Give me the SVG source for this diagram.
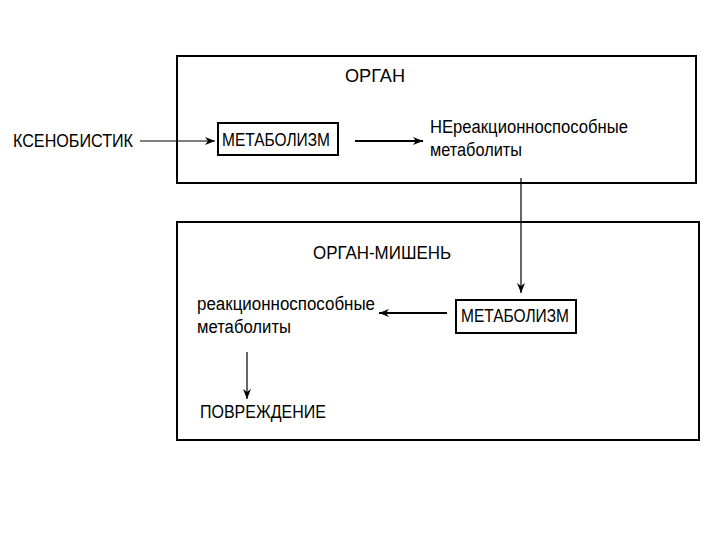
<svg xmlns="http://www.w3.org/2000/svg" width="720" height="540" viewBox="0 0 720 540">
<style>
text{font-family:"Liberation Sans",Arial,sans-serif;font-size:18px;fill:#000}
.frame{fill:none;stroke:#000;stroke-width:2}
.box{fill:#fff;stroke:#000;stroke-width:2}
.thin{stroke:#000;stroke-width:1.2;fill:none}
.thick{stroke:#000;stroke-width:2;fill:none}
</style>
<defs>
<marker id="ah" viewBox="0 0 10 8" refX="10" refY="4" markerWidth="10" markerHeight="8" markerUnits="userSpaceOnUse" orient="auto">
<path d="M0,0 L10,4 L0,8 L3,4 Z" fill="#000"/>
</marker>
</defs>
<rect width="720" height="540" fill="#fff"/>
<g id="organ">
<rect class="frame" x="177" y="56" width="519" height="127"/>
<text x="345" y="82" textLength="60" lengthAdjust="spacingAndGlyphs">ОРГАН</text>
</g>
<g id="target-organ">
<rect class="frame" x="177" y="222" width="522" height="218"/>
<text x="313" y="259" textLength="138" lengthAdjust="spacingAndGlyphs">ОРГАН-МИШЕНЬ</text>
</g>
<g id="xenobiotic">
<text x="13" y="147" textLength="120" lengthAdjust="spacingAndGlyphs">КСЕНОБИСТИК</text>
</g>
<g id="metabolism1">
<rect class="box" x="218" y="123" width="120" height="32"/>
<text x="222" y="146" textLength="108" lengthAdjust="spacingAndGlyphs">МЕТАБОЛИЗМ</text>
</g>
<g id="nonreactive">
<text x="430" y="133" textLength="198" lengthAdjust="spacingAndGlyphs">НЕреакционноспособные</text>
<text x="430" y="156" textLength="92" lengthAdjust="spacingAndGlyphs">метаболиты</text>
</g>
<g id="metabolism2">
<rect class="box" x="456" y="300" width="120" height="33"/>
<text x="461" y="322" textLength="108" lengthAdjust="spacingAndGlyphs">МЕТАБОЛИЗМ</text>
</g>
<g id="reactive">
<text x="197" y="310" textLength="178" lengthAdjust="spacingAndGlyphs">реакционноспособные</text>
<text x="197" y="333" textLength="94" lengthAdjust="spacingAndGlyphs">метаболиты</text>
</g>
<g id="damage">
<text x="200" y="418" textLength="126" lengthAdjust="spacingAndGlyphs">ПОВРЕЖДЕНИЕ</text>
</g>
<g id="connectors">
<line class="thin" x1="140" y1="141" x2="215" y2="141" marker-end="url(#ah)"/>
<line class="thick" x1="355" y1="141" x2="423" y2="141" marker-end="url(#ah)"/>
<line class="thin" x1="521" y1="178" x2="521" y2="293" marker-end="url(#ah)"/>
<line class="thick" x1="447" y1="313" x2="379" y2="313" marker-end="url(#ah)"/>
<line class="thin" x1="247" y1="352" x2="247" y2="399" marker-end="url(#ah)"/>
</g>
</svg>
